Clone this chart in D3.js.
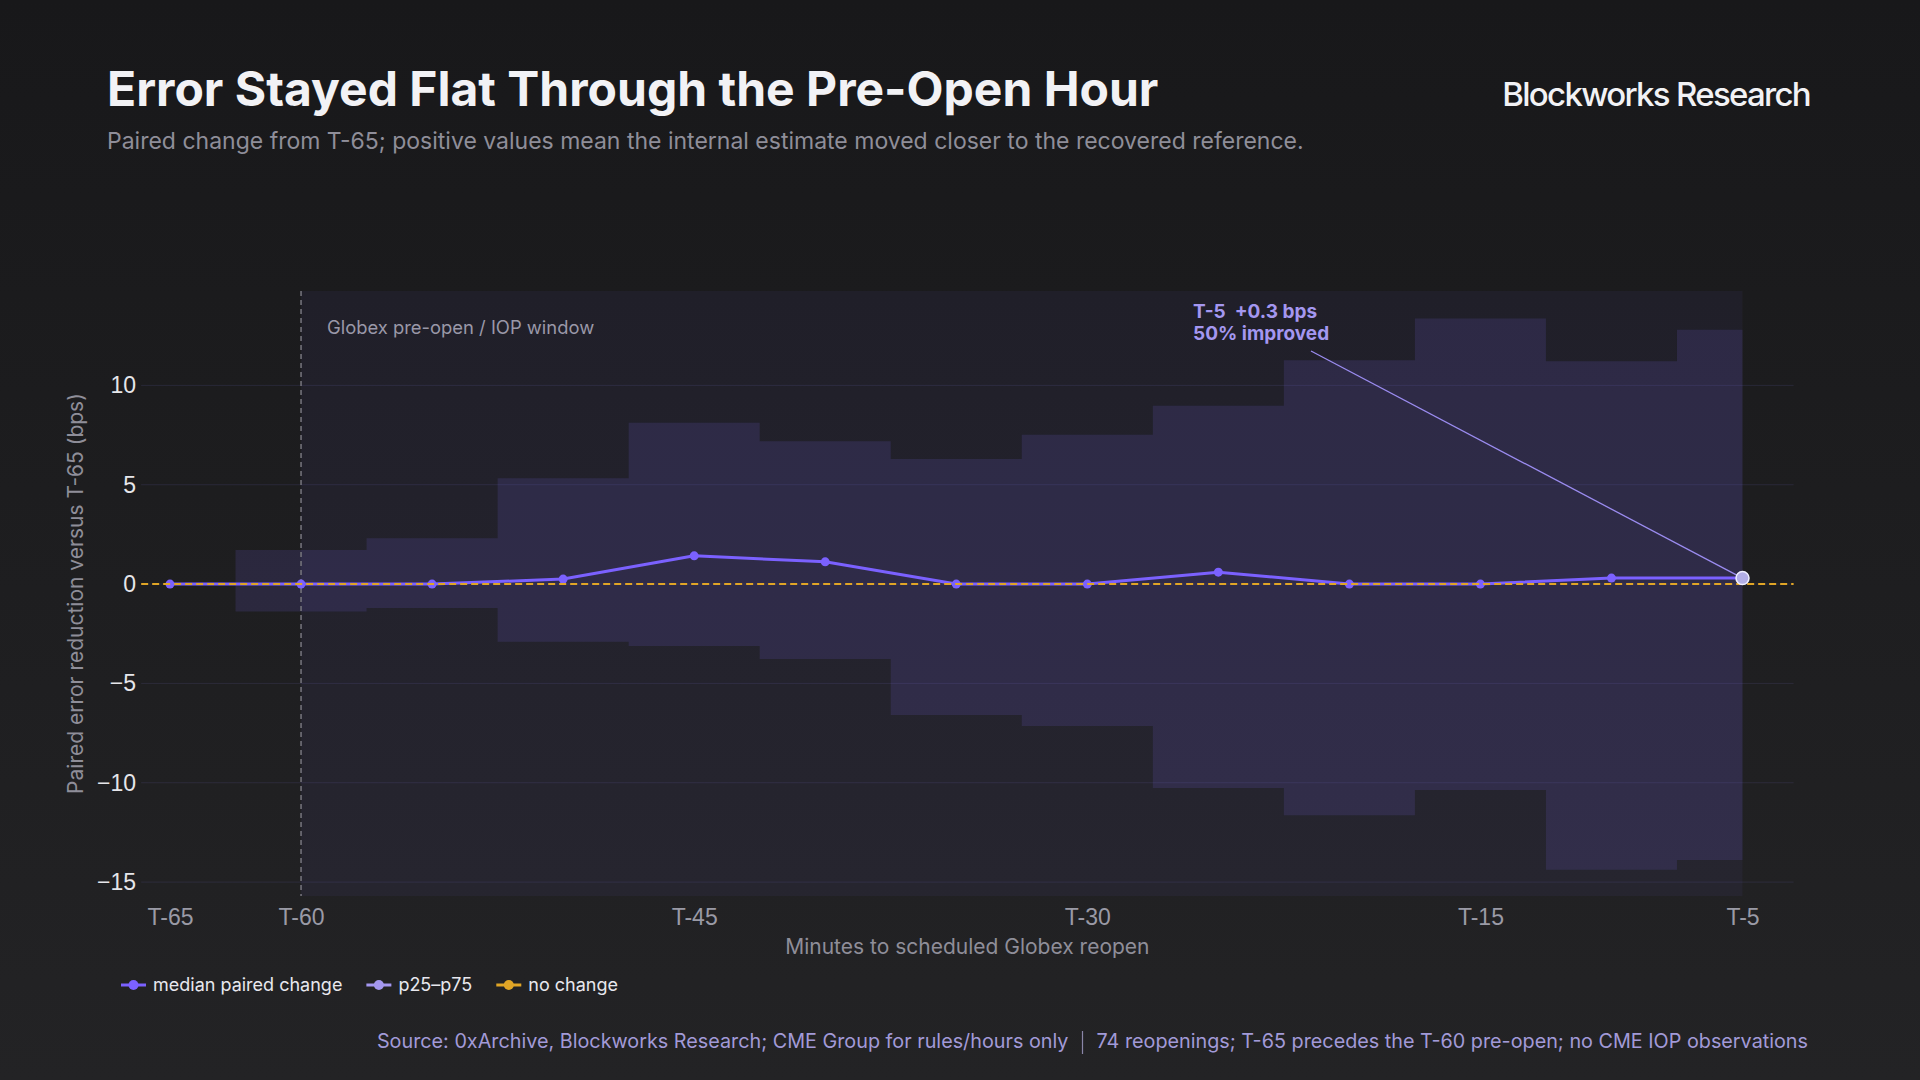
<!DOCTYPE html>
<html>
<head>
<meta charset="utf-8">
<script src="https://cdn.jsdelivr.net/npm/d3@7"></script>
<style>
  html, body { margin: 0; padding: 0; background: #1c1c1e; }
  svg { display: block; font-family: Inter, "Noto Sans", sans-serif; }
</style>
</head>
<body>
<svg id="chart" width="1920" height="1080"></svg>
<script>
// data
const minutes = [-65, -60, -55, -50, -45, -40, -35, -30, -25, -20, -15, -10, -5];
const median = [0, 0, 0, 0.25, 1.42, 1.12, 0, 0, 0.6, 0, 0, 0.3, 0.3];
const p25 = [0, -1.38, -1.21, -2.9, -3.12, -3.77, -6.59, -7.15, -10.27, -11.63, -10.37, -14.38, -13.89];
const p75 = [0, 1.72, 2.31, 5.33, 8.12, 7.19, 6.3, 7.52, 8.97, 11.27, 13.36, 11.22, 12.8];
const xTicks = [-65, -60, -45, -30, -15, -5];
const yTicks = [-15, -10, -5, 0, 5, 10];
const legendItems = ['median paired change', 'p25\u2013p75', 'no change'];

const C = {
  median: '#7b61ff',
  band: '#a497f0',
  zero: '#e0a526',
  text: '#f2f2f5',
  muted: '#8f8e99'
};

const svg = d3.select('#chart');

// background, slightly lighter towards the bottom
const defs = svg.append('defs');
const bg = defs.append('linearGradient').attr('id', 'bg')
  .attr('x1', 0).attr('y1', 0).attr('x2', 0).attr('y2', 1);
bg.append('stop').attr('offset', '0%').attr('stop-color', '#18181a');
bg.append('stop').attr('offset', '100%').attr('stop-color', '#232325');
svg.append('rect').attr('width', 1920).attr('height', 1080).attr('fill', 'url(#bg)');

// header
svg.append('text').attr('x', 107).attr('y', 106)
  .attr('font-size', 48).attr('font-weight', 700).attr('fill', C.text)
  .text('Error Stayed Flat Through the Pre-Open Hour');
svg.append('text').attr('x', 107).attr('y', 149)
  .attr('font-size', 23).attr('fill', C.muted)
  .text('Paired change from T-65; positive values mean the internal estimate moved closer to the recovered reference.');
svg.append('text').attr('x', 1810).attr('y', 106).attr('text-anchor', 'end')
  .attr('font-size', 33).attr('font-weight', 500).attr('fill', C.text)
  .attr('letter-spacing', -1.7)
  .text('Blockworks Research');

// scales
const x = d3.scaleLinear().domain([-65, -5]).range([170, 1742.5]);
const y = d3.scaleLinear().domain([-15.7, 14.75]).range([896, 291]);
const gridX = [x(-66.1), x(-3.05)];

const plot = svg.append('g');

// pre-open window shading
plot.append('rect')
  .attr('x', x(-60)).attr('y', y.range()[1])
  .attr('width', x(-5) - x(-60)).attr('height', y.range()[0] - y.range()[1])
  .attr('fill', 'rgba(108,90,200,0.075)');

// p25-p75 band as a step area
const rows = minutes.map((m, i) => ({ m, med: median[i], lo: p25[i], hi: p75[i] }));
plot.append('path').datum(rows)
  .attr('fill', 'rgba(108,90,200,0.18)')
  .attr('d', d3.area().curve(d3.curveStep)
    .x(d => x(d.m)).y0(d => y(d.lo)).y1(d => y(d.hi)));

// horizontal grid
plot.selectAll('.grid').data(yTicks).join('line')
  .attr('x1', gridX[0]).attr('x2', gridX[1])
  .attr('y1', d => y(d)).attr('y2', d => y(d))
  .attr('stroke', 'rgba(120,110,210,0.14)').attr('stroke-width', 1);

// T-60 marker
plot.append('line')
  .attr('x1', x(-60)).attr('x2', x(-60))
  .attr('y1', y.range()[1]).attr('y2', y.range()[0])
  .attr('stroke', '#77767f').attr('stroke-width', 1.5).attr('stroke-dasharray', '5,4');
plot.append('text').attr('x', 327).attr('y', 334)
  .attr('font-size', 18.4).attr('fill', '#9a98a8')
  .text('Globex pre-open / IOP window');

// median line + points
plot.append('path').datum(rows)
  .attr('fill', 'none').attr('stroke', C.median).attr('stroke-width', 3)
  .attr('stroke-linejoin', 'round')
  .attr('d', d3.line().x(d => x(d.m)).y(d => y(d.med)));
plot.selectAll('.pt').data(rows.slice(0, -1)).join('circle')
  .attr('cx', d => x(d.m)).attr('cy', d => y(d.med)).attr('r', 4.5)
  .attr('fill', C.median);

// no-change line
plot.append('line')
  .attr('x1', gridX[0]).attr('x2', gridX[1])
  .attr('y1', y(0)).attr('y2', y(0))
  .attr('stroke', C.zero).attr('stroke-width', 2).attr('stroke-dasharray', '7,4');

// annotation for the last point
const last = rows[rows.length - 1];
plot.append('line')
  .attr('x1', 1311).attr('y1', 351)
  .attr('x2', x(last.m)).attr('y2', y(last.med))
  .attr('stroke', '#9b8cf0').attr('stroke-width', 1.3);
plot.append('circle')
  .attr('cx', x(last.m)).attr('cy', y(last.med)).attr('r', 6.5)
  .attr('fill', '#b2aee6').attr('stroke', '#f0f0ff').attr('stroke-width', 1.5);
const ann = plot.append('text').attr('font-size', 19).attr('font-weight', 700).attr('fill', C.band);
ann.append('tspan').attr('x', 1193).attr('y', 318).attr('xml:space', 'preserve').text('T-5  +0.3 bps');
ann.append('tspan').attr('x', 1193).attr('y', 340).text('50% improved');

// axes
const xAxis = svg.append('g').attr('transform', 'translate(0,896)')
  .call(d3.axisBottom(x).tickValues(xTicks).tickSize(0).tickPadding(13).tickFormat(d => 'T' + d));
xAxis.select('.domain').remove();
xAxis.selectAll('text').attr('font-size', 23).attr('fill', '#9a9aa6').attr('font-family', null);

const yAxis = svg.append('g').attr('transform', 'translate(136,0)')
  .call(d3.axisLeft(y).tickValues(yTicks).tickSize(0).tickPadding(0));
yAxis.select('.domain').remove();
yAxis.selectAll('text').attr('font-size', 23).attr('fill', '#e6e6ea').attr('font-family', null);

svg.append('text').attr('x', (gridX[0] + gridX[1]) / 2).attr('y', 954)
  .attr('text-anchor', 'middle').attr('font-size', 21).attr('fill', C.muted)
  .text('Minutes to scheduled Globex reopen');
svg.append('text')
  .attr('transform', `translate(83,${(y.range()[0] + y.range()[1]) / 2}) rotate(-90)`)
  .attr('text-anchor', 'middle').attr('font-size', 21).attr('fill', C.muted)
  .text('Paired error reduction versus T-65 (bps)');

// legend
const legendColors = [C.median, C.band, C.zero];
let lx = 121;
legendItems.forEach((label, i) => {
  const g = svg.append('g').attr('transform', `translate(${lx},985)`);
  g.append('line').attr('x1', 0).attr('x2', 25).attr('stroke', legendColors[i]).attr('stroke-width', 3);
  g.append('circle').attr('cx', 12.5).attr('r', 5).attr('fill', legendColors[i]);
  const t = g.append('text').attr('x', 32).attr('y', 6).attr('font-size', 18).attr('fill', '#e8e8ee').text(label);
  lx += 32 + t.node().getComputedTextLength() + 24;
});

// footer, laid out from the right edge
const foot = svg.append('g').attr('font-size', 19.8).attr('fill', '#a29ad8');
const right = foot.append('text').attr('x', 1808).attr('y', 1048).attr('text-anchor', 'end')
  .text('74 reopenings; T-65 precedes the T-60 pre-open; no CME IOP observations');
const sepX = 1808 - right.node().getComputedTextLength() - 14;
foot.append('line').attr('x1', sepX).attr('x2', sepX).attr('y1', 1031).attr('y2', 1054)
  .attr('stroke', '#8a86a8').attr('stroke-width', 1.2);
foot.append('text').attr('x', sepX - 14).attr('y', 1048).attr('text-anchor', 'end')
  .text('Source: 0xArchive, Blockworks Research; CME Group for rules/hours only');
</script>
</body>
</html>
